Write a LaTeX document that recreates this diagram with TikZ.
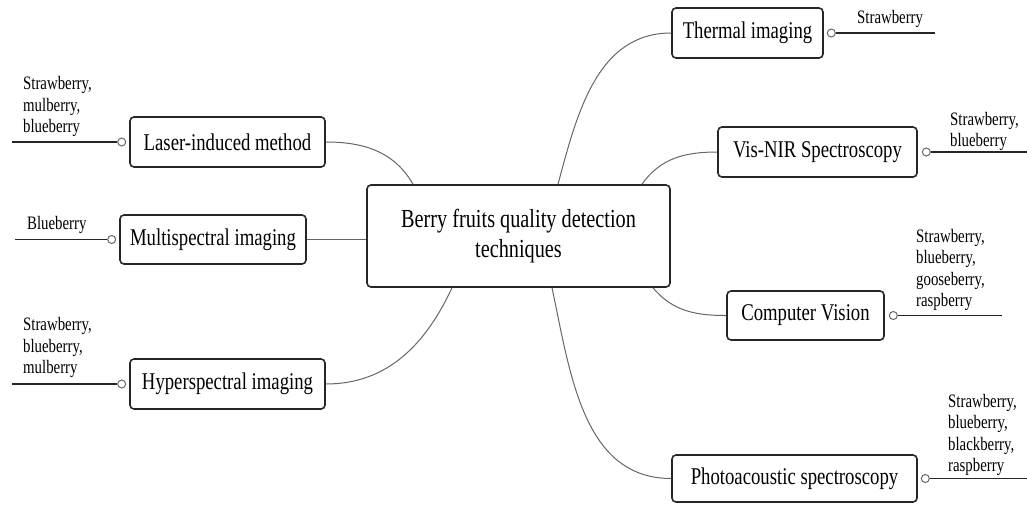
\documentclass[tikz,border=0pt]{standalone}
\usepackage{fontspec}
\setmainfont{Liberation Serif}[FakeStretch=0.78]
\usetikzlibrary{positioning}

\begin{document}
\begin{tikzpicture}[x=1pt, y=-1pt,
  box/.style={draw=black!85, line width=1.6pt, rounded corners=4pt, fill=white, inner sep=0pt, align=center},
  main/.style={box, minimum width=303pt, minimum height=102pt, font=\fontsize{26}{30}\selectfont},
  topic/.style={box, minimum width=195pt, minimum height=50pt, font=\fontsize{24}{27}\selectfont},
  fruit/.style={anchor=south west, align=left, inner sep=0pt, font=\fontsize{19}{21.5}\selectfont},
  dot/.style={circle, draw=black!60, line width=1pt, fill=white, inner sep=0pt, minimum size=8pt},
  link/.style={draw=black!60, line width=1pt},
  leaf/.style={draw=black!85, line width=1.3pt}]
  \useasboundingbox (0,0) rectangle (1027,504);

  \node[main] (berry) at (518.5,236) {Berry fruits quality detection\\techniques};

  \node[topic] (laser) at (227.5,142) {Laser-induced method};
  \node[topic, minimum width=186pt, minimum height=49pt] (multi) at (213,239.5) {Multispectral imaging};
  \node[topic] (hyper) at (227.5,384) {Hyperspectral imaging};
  \node[topic, minimum width=151pt] (thermal) at (747.5,33) {Thermal imaging};
  \node[topic, minimum width=199pt] (visnir) at (817.5,152) {Vis-NIR Spectroscopy};
  \node[topic, minimum width=157pt, minimum height=49pt] (vision) at (805.5,315.5) {Computer Vision};
  \node[topic, minimum width=245pt, minimum height=47pt] (photo) at (794.5,478.5) {Photoacoustic spectroscopy};

  \node[dot, left=3pt of laser] (laserdot) {};
  \node[dot, left=3pt of multi] (multidot) {};
  \node[dot, left=3pt of hyper] (hyperdot) {};
  \node[dot, right=3pt of thermal] (thermaldot) {};
  \node[dot, right=4pt of visnir] (visnirdot) {};
  \node[dot, right=4pt of vision] (visiondot) {};
  \node[dot, right=3pt of photo] (photodot) {};

  \coordinate (laserend) at (12,142);
  \coordinate (multiend) at (15,239.5);
  \coordinate (hyperend) at (12,384);
  \coordinate (thermalend) at (935,33);
  \coordinate (visnirend) at (1027,152);
  \coordinate (visionend) at (1002,315.5);
  \coordinate (photoend) at (1027,478.5);

  \node[fruit] (laserfruit) at (23,137) {Strawberry,\\mulberry,\\blueberry};
  \node[fruit] (multifruit) at (27,234) {Blueberry};
  \node[fruit] (hyperfruit) at (23,378) {Strawberry,\\blueberry,\\mulberry};
  \node[fruit] (thermalfruit) at (857,28) {Strawberry};
  \node[fruit] (visnirfruit) at (950,151) {Strawberry,\\blueberry};
  \node[fruit] (visionfruit) at (916,311) {Strawberry,\\blueberry,\\gooseberry,\\raspberry};
  \node[fruit] (photofruit) at (948,476) {Strawberry,\\blueberry,\\blackberry,\\raspberry};

  \draw[leaf] (laserdot) -- (laserend);
  \draw[leaf] (multidot) -- (multiend);
  \draw[leaf] (hyperdot) -- (hyperend);
  \draw[leaf] (thermaldot) -- (thermalend);
  \draw[leaf] (visnirdot) -- (visnirend);
  \draw[leaf] (visiondot) -- (visionend);
  \draw[leaf] (photodot) -- (photoend);

  \draw[link] ([xshift=-105.5pt]berry.north) to[out=120, in=0] (laser.east);
  \draw[link] (multi.east) -- (multi.east -| berry.west);
  \draw[link] ([xshift=-66.5pt]berry.south) to[out=-115, in=0] (hyper.east);
  \draw[link] ([xshift=39.5pt]berry.north) to[out=75, in=180] (thermal.west);
  \draw[link] ([xshift=123.5pt]berry.north) to[out=55, in=180] (visnir.west);
  \draw[link] ([xshift=134.5pt]berry.south) to[out=-50, in=180] (vision.west);
  \draw[link] ([xshift=33.5pt]berry.south) to[out=-78, in=180] (photo.west);
\end{tikzpicture}
\end{document}
